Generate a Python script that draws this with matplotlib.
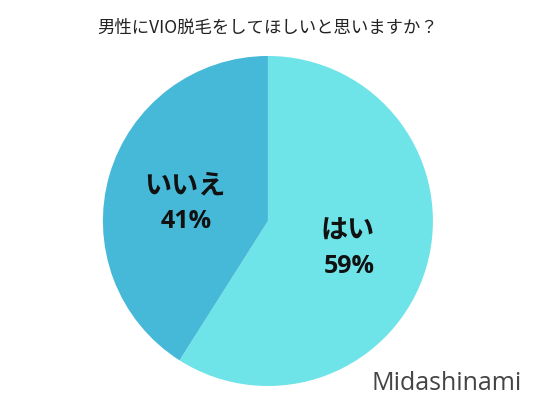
import matplotlib
matplotlib.use("Agg")
import matplotlib.pyplot as plt

labels = ["はい", "いいえ"]
values = [59, 41]
colors = ["#6ee3e8", "#46b8d8"]
title = "男性にVIO脱毛をしてほしいと思いますか？"

plt.rcParams['font.family'] = ['Noto Sans CJK JP', 'DejaVu Sans']

fig = plt.figure(figsize=(5.36, 4.02), dpi=100)
ax = fig.add_axes([0.192, 0.0373, 0.6157, 0.821])
wedges, _ = ax.pie(values, colors=colors, startangle=90, counterclock=False,
                   radius=1.0, wedgeprops=dict(linewidth=0))
ax.set_xlim(-1, 1)
ax.set_ylim(-1, 1)
ax.set_aspect('equal')

pos = [(0.485, -0.052), (-0.503, 0.221)]
for (x, y), lab, v in zip(pos, labels, values):
    ax.text(x, y, lab, ha='center', va='center', fontsize=19.5, fontweight='bold', color='#111111')
    ax.text(x + 0.01, y - 0.22, f"{v}%", ha='center', va='center', fontsize=18, fontweight='bold',
            color='#111111', family=['Open Sans', 'DejaVu Sans'])

fig.text(0.5, 1 - 28/402, title, ha='center', va='center', fontsize=12.5, color='#222222')
fig.text(447/536, 1 - 384/402, "Midashinami", ha='center', va='center', fontsize=18,
         color='#444444', family=['Open Sans', 'DejaVu Sans'])

fig.savefig("out.png", dpi=100)
